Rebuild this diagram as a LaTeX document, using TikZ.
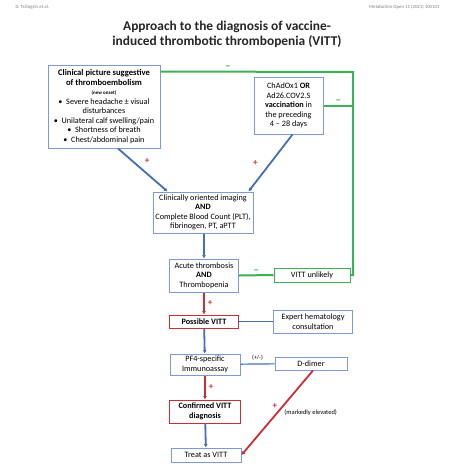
\documentclass[tikz,border=0pt]{standalone}
\usepackage{fontspec}
\setmainfont{Carlito}
\usetikzlibrary{arrows.meta,calc}
\definecolor{boxblue}{RGB}{125,155,210}
\definecolor{lineblue}{RGB}{70,110,180}
\definecolor{vgreen}{RGB}{60,178,85}
\definecolor{vred}{RGB}{205,45,50}

\begin{document}
\begin{tikzpicture}[x=1pt,y=-1pt,
    box/.style={draw=boxblue,line width=1pt,fill=white,align=center,inner sep=1pt,
      font=\fontsize{8.2}{9.5}\selectfont},
    greenbox/.style={box,draw=vgreen},
    redbox/.style={box,draw=vred},
    bluearrow/.style={draw=lineblue,line width=1.8pt,-{Latex[length=3.5pt,width=4pt]}},
    redarrow/.style={draw=vred,line width=1.8pt,-{Latex[length=3.5pt,width=4pt]}},
    greenline/.style={draw=vgreen,line width=2pt},
    plus/.style={text=vred,font=\bfseries\fontsize{9}{9}\selectfont,inner sep=1pt},
    minus/.style={text=vgreen,font=\bfseries\fontsize{11}{11}\selectfont,inner sep=1pt}]
  \useasboundingbox[fill=white] (0,0) rectangle (453,466);

  % header and title
  \node[anchor=west,text=gray,font=\fontsize{4.8}{5}\selectfont] (hdl) at (12,7) {D. Tsilingiris et al.};
  \node[anchor=east,text=gray,font=\fontsize{4.8}{5}\selectfont] (hdr) at (443,7) {Metabolism Open 11 (2021) 100101};
  \node[align=center,font=\bfseries\fontsize{13.4}{15}\selectfont,text=black!85] (title) at (227,34.5)
    {Approach to the diagnosis of vaccine-\\induced thrombotic thrombopenia (VITT)};

  % boxes
  \node[box,minimum width=112pt,minimum height=83pt] (clin) at (104,106.5)
    {\textbf{\fontsize{8.6}{10}\selectfont Clinical picture suggestive}\\
     \textbf{\fontsize{8.6}{10}\selectfont of thromboembolism}\\
     \textbf{\fontsize{5}{6}\selectfont (new onset)}\\
     •\ \ Severe headache ± visual\\ disturbances\\
     •\ \ Unilateral calf swelling/pain\\
     •\ \ Shortness of breath\\
     •\ \ Chest/abdominal pain};
  \node[box,minimum width=69pt,minimum height=57pt] (vac) at (288.5,105.5)
    {ChAdOx1 \textbf{OR}\\ Ad26.COV2.S\\ \textbf{vaccination} in\\ the preceding\\ 4 -- 28 days};
  \node[box,minimum width=100pt,minimum height=41pt] (img) at (203,212.5)
    {Clinically oriented imaging\\ \textbf{AND}\\ Complete Blood Count (PLT),\\ fibrinogen, PT, aPTT};
  \node[box,minimum width=69pt,minimum height=33pt] (acute) at (204,275.5)
    {Acute thrombosis\\ \textbf{AND}\\ Thrombopenia};
  \node[greenbox,minimum width=76pt,minimum height=14pt] (unlikely) at (312,275) {VITT unlikely};
  \node[redbox,minimum width=69pt,minimum height=13pt] (possible) at (204,321.5) {\textbf{Possible VITT}};
  \node[box,minimum width=79pt,minimum height=23pt] (expert) at (313,321.5)
    {Expert hematology\\ consultation};
  \node[box,minimum width=70pt,minimum height=21pt] (pf4) at (205,364.5)
    {PF4-specific\\ Immunoassay};
  \node[box,minimum width=72pt,minimum height=13pt] (ddimer) at (311,363.5) {D-dimer};
  \node[redbox,minimum width=71pt,minimum height=23pt] (confirmed) at (205,411.5)
    {\textbf{Confirmed VITT}\\ \textbf{diagnosis}};
  \node[box,minimum width=70pt,minimum height=14pt] (treat) at (206,455) {Treat as VITT};

  % connectors
  \coordinate (gtop) at (353,72);
  \draw[greenline] ([yshift=-7pt]clin.north east) -- node[minus,pos=0.35,above=0pt]{--} (gtop) |- (unlikely.east);
  \draw[greenline] (vac.east) -- node[minus,midway,above=0pt]{--} (vac.east -| gtop);
  \draw[greenline] (acute.east) -- node[minus,midway,above=0pt]{--} (unlikely.west);

  \draw[bluearrow] ([xshift=14pt]clin.south) -- node[plus,pos=0.3,right=10pt]{+} ([xshift=15pt]img.north west);
  \draw[bluearrow] ([xshift=4pt]vac.south) -- node[plus,pos=0.5,left=11pt]{+} ([xshift=-5pt]img.north east);
  \draw[bluearrow] (img.south -| acute.north) -- (acute.north);
  \draw[redarrow] (acute) -- node[plus,midway,right=2pt]{+} (possible);
  \draw[draw=lineblue,line width=1.2pt] (possible) -- (expert);
  \draw[bluearrow] (possible) -- (pf4);
  \draw[draw=lineblue,line width=1.2pt] (pf4) -- node[midway,above,font=\fontsize{6}{6}\selectfont]{(+/-)} (ddimer);
  \draw[redarrow] (pf4) -- node[plus,midway,right=2pt]{+} (confirmed);
  \draw[bluearrow] (confirmed) -- (treat);
  \draw[redarrow] ([xshift=2pt]ddimer.south) --
    node[plus,pos=0.42,left=4pt]{+}
    node[pos=0.5,right=3pt,font=\fontsize{6.5}{7}\selectfont]{(markedly elevated)} (treat.east);
\end{tikzpicture}
\end{document}
